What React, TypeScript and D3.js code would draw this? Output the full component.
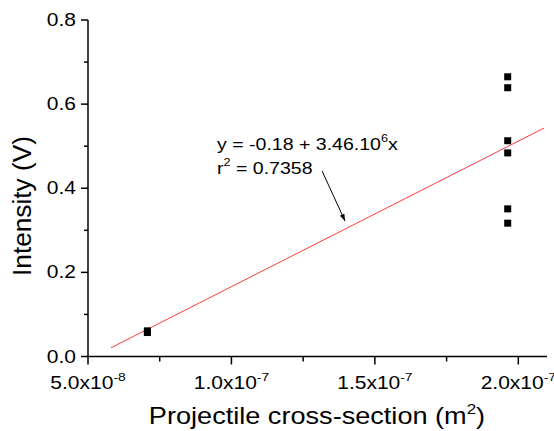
import React from "react";
import * as d3 from "d3";

// Measured intensity versus projectile cross-section
const crossSections = [7.07e-8, 7.07e-8, 1.963e-7, 1.963e-7, 1.963e-7, 1.963e-7, 1.963e-7, 1.963e-7];
const intensities = [0.061, 0.057, 0.665, 0.639, 0.513, 0.484, 0.351, 0.317];

// Linear fit: y = a + b x
const fitIntercept = -0.18;
const fitSlope = 3.46e6;
const fitRange = [5.8e-8, 2.09e-7];

const xMajorTicks = [5e-8, 1e-7, 1.5e-7, 2e-7];
const xMajorLabels = [["5.0x10", "-8"], ["1.0x10", "-7"], ["1.5x10", "-7"], ["2.0x10", "-7"]];
const xMinorTicks = [7.5e-8, 1.25e-7, 1.75e-7];
const yMajorTicks = [0, 0.2, 0.4, 0.6, 0.8];
const yMajorLabels = ["0.0", "0.2", "0.4", "0.6", "0.8"];
const yMinorTicks = [0.1, 0.3, 0.5, 0.7];

// Annotation arrow (data coordinates): tail -> tip
const arrowTail = [1.316e-7, 0.441];
const arrowTip = [1.396e-7, 0.322];

const W = 554;
const H = 431;
const FONT = "'Liberation Sans', Arial, sans-serif";
// Horizontal widening applied to all text (wide Arial look)
const SX_TICK = 1.2;
const SX_TITLE = 1.13;
const SX_NOTE = 1.15;

export default function App() {
  const x = d3.scaleLinear().domain([5e-8, 2.1e-7]).range([88, 547]);
  const y = d3.scaleLinear().domain([0, 0.8]).range([356.5, 20]);
  const x0 = x.range()[0];
  const y0 = y.range()[0];

  const fitLine = d3
    .line<number>()
    .x((d) => x(d))
    .y((d) => y(fitIntercept + fitSlope * d));

  const sq = 7;

  return (
    <svg width={W} height={H} style={{ position: "absolute", left: 0, top: 0, background: "#fff" }} fontFamily={FONT}>
      <defs>
        <marker id="arrowhead" viewBox="0 0 10 10" refX="10" refY="5" markerWidth="8" markerHeight="7" orient="auto-start-reverse" markerUnits="userSpaceOnUse">
          <path d="M0,1.5 L10,5 L0,8.5 Z" fill="#000" />
        </marker>
      </defs>

      {/* fit line */}
      <path d={fitLine(fitRange) || ""} stroke="#ff3b3b" strokeWidth={1} fill="none" />

      {/* data points */}
      {crossSections.map((cx, i) => (
        <rect key={i} x={x(cx) - sq / 2} y={y(intensities[i]) - sq / 2} width={sq} height={sq} fill="#000" />
      ))}

      {/* y axis */}
      <line x1={x0} x2={x0} y1={y(0.8)} y2={y0} stroke="#000" strokeWidth={1.5} />
      {yMajorTicks.map((t, i) => (
        <g key={"ym" + i}>
          <line x1={x0 - 7} x2={x0} y1={y(t)} y2={y(t)} stroke="#000" strokeWidth={1.5} />
          <text transform={`translate(${x0 - 12},${y(t) + 6}) scale(${SX_TICK},1)`} fontSize={17.5} textAnchor="end" fill="#000">
            {yMajorLabels[i]}
          </text>
        </g>
      ))}
      {yMinorTicks.map((t, i) => (
        <line key={"yn" + i} x1={x0 - 4} x2={x0} y1={y(t)} y2={y(t)} stroke="#000" strokeWidth={1.5} />
      ))}

      {/* x axis */}
      <line x1={x0} x2={x.range()[1]} y1={y0} y2={y0} stroke="#000" strokeWidth={1.5} />
      {xMajorTicks.map((t, i) => (
        <g key={"xm" + i}>
          <line x1={x(t)} x2={x(t)} y1={y0} y2={y0 + 8} stroke="#000" strokeWidth={1.5} />
          <text transform={`translate(${x(t)},389) scale(${SX_TICK},1)`} fontSize={17.5} textAnchor="middle" fill="#000">
            {xMajorLabels[i][0]}
            <tspan fontSize={11.5} dy={-8}>{xMajorLabels[i][1]}</tspan>
          </text>
        </g>
      ))}
      {xMinorTicks.map((t, i) => (
        <line key={"xn" + i} x1={x(t)} x2={x(t)} y1={y0} y2={y0 + 5} stroke="#000" strokeWidth={1.5} />
      ))}

      {/* axis titles */}
      <text transform={`translate(317,424) scale(${SX_TITLE},1)`} fontSize={24} textAnchor="middle" fill="#000">
        Projectile cross-section (m<tspan fontSize={15} dy={-10}>2</tspan>
        <tspan dy={10}>)</tspan>
      </text>
      <text transform="translate(31,206) rotate(-90) scale(1.05,1)" fontSize={25} textAnchor="middle" fill="#000">
        Intensity (V)
      </text>

      {/* fit annotation */}
      <text transform={`translate(217,150) scale(${SX_NOTE},1)`} fontSize={17} fill="#000">
        y = -0.18 + 3.46.10<tspan fontSize={11} dy={-8}>6</tspan>
        <tspan dy={8}>x</tspan>
      </text>
      <text transform={`translate(217,174) scale(${SX_NOTE},1)`} fontSize={17} fill="#000">
        r<tspan fontSize={11} dy={-8}>2</tspan>
        <tspan dy={8}> = 0.7358</tspan>
      </text>
      <line
        x1={x(arrowTail[0])}
        y1={y(arrowTail[1])}
        x2={x(arrowTip[0])}
        y2={y(arrowTip[1])}
        stroke="#000"
        strokeWidth={1}
        markerEnd="url(#arrowhead)"
      />
    </svg>
  );
}
